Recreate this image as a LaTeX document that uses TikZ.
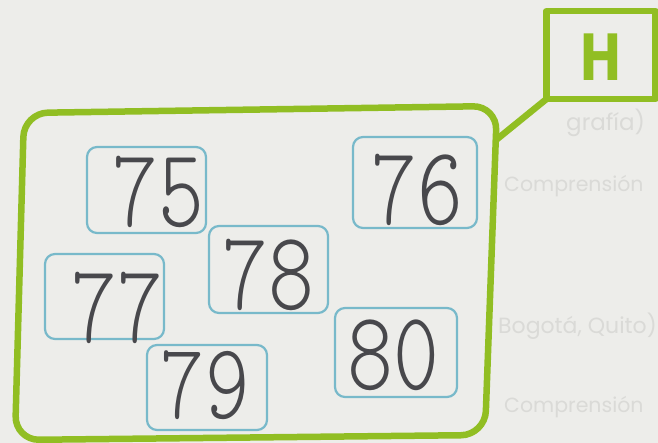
\documentclass[tikz,border=0pt]{standalone}
\usepackage{fontspec}
\newfontfamily\hand{lmmonolt10-regular.otf}
\newfontfamily\ghostfont{Poppins}
\newfontfamily\hfont{DejaVu Sans}
\definecolor{bgc}{RGB}{237,237,234}
\definecolor{grn}{RGB}{145,190,35}
\definecolor{blu}{RGB}{120,185,202}
\definecolor{ink}{RGB}{72,72,76}
\definecolor{ghost}{RGB}{218,218,215}
\tikzset{
  frame/.style={draw=grn, line width=6.5pt, line join=round, line cap=round},
  numbox/.style={draw=blu, line width=2.2pt, rounded corners=10pt, minimum width=#1, minimum height=86pt, inner sep=0pt, outer sep=0pt},
  numbox/.default=120pt,
  digits/.style={inner sep=0pt, text=ink, font=\hand\fontsize{112}{112}\selectfont, xscale=0.78},
  ghosttext/.style={inner sep=0pt, text=ghost, font=\ghostfont\fontsize{20.5}{20.5}\selectfont, anchor=base west}
}
\begin{document}
\begin{tikzpicture}[x=1pt,y=-1pt]
\fill[bgc] (0,0) rectangle (658,443);
\useasboundingbox (0,0) rectangle (658,443);
% faint text showing through from the back of the page
\node[ghosttext, font=\ghostfont\fontsize{23}{23}\selectfont] (g1) at (566,131) {grafía)};
\node[ghosttext] (g2) at (504,192) {Comprensión};
\node[ghosttext, font=\ghostfont\fontsize{22}{22}\selectfont] (g3) at (498,334) {Bogotá, Quito)};
\node[ghosttext] (g4) at (504,412) {Comprensión};
% main frame
\coordinate (Tm) at (260,109.5);
\coordinate (TR) at (497,106);
\coordinate (BR) at (485,435);
\coordinate (BL) at (15,440);
\coordinate (TL) at (24,113);
\coordinate (j) at (496,140);
\draw[frame, fill=bgc, rounded corners=24pt] (Tm) -- (TR) -- (BR) -- (BL) -- (TL) -- cycle;
% H label
\node[frame, fill=bgc, minimum width=109pt, minimum height=88pt, outer sep=0pt, inner sep=0pt] (hbox) at (601,55) {};
\node[text=grn, font=\hfont\bfseries\fontsize{64}{64}\selectfont, xscale=0.8, inner sep=0pt] (hl) at (601,57) {H};
\draw[frame] (hbox.south west) -- (j);
% number boxes
\node[numbox=119pt, minimum height=86pt] (b75) at (146.5,190) {};
\node[numbox=124pt, minimum height=91pt] (b76) at (415,182.5) {};
\node[numbox=119pt, minimum height=85pt] (b77) at (104.5,296.5) {};
\node[numbox=119pt, minimum height=87pt] (b78) at (268.5,269.5) {};
\node[numbox=120pt, minimum height=85pt] (b79) at (207,387.5) {};
\node[numbox=122pt, minimum height=89pt] (b80) at (396,352.5) {};
% handwritten numbers
\node[digits] (d75) at (158,192) {75};
\node[digits] (d76) at (417,190) {76};
\node[digits] (d77) at (117,308) {77};
\node[digits] (d78) at (268,275) {78};
\node[digits, font=\hand\fontsize{108}{108}\selectfont] (d79) at (205,385) {79};
\node[digits] (d80) at (393,355) {80};
\end{tikzpicture}
\end{document}
